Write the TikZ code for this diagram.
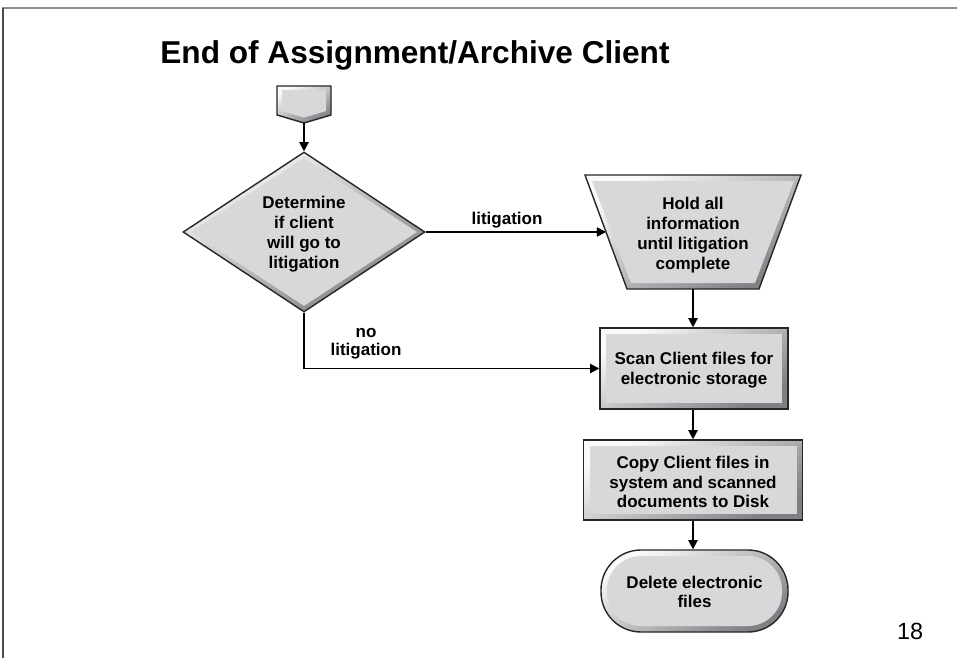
\documentclass[tikz,border=0pt]{standalone}
\usepackage{fontspec}
\setmainfont{Liberation Sans}
\usetikzlibrary{shapes.geometric,arrows.meta}
\definecolor{face}{RGB}{216,216,219}
\definecolor{rimlight}{RGB}{250,250,252}
\definecolor{rimdark}{RGB}{128,128,132}
\begin{document}
\begin{tikzpicture}[x=0.5pt,y=-0.5pt,
  outer/.style={draw=black!85, line width=0.7pt, top color=rimlight, bottom color=rimdark, shading angle=30, inner sep=0pt},
  inner/.style={fill=face, draw=none, inner sep=0pt},
  txt/.style={font=\bfseries\fontsize{8.5}{9.9}\selectfont, align=center, inner sep=0pt, text=black},
  flow/.style={-{Triangle[length=4.6pt,width=4.6pt]}, line width=0.9pt, draw=black},
  lbl/.style={font=\bfseries\fontsize{8.5}{8.8}\selectfont, align=center, inner sep=0pt}]
\useasboundingbox (0,0) rectangle (957,658);
\fill[white] (0,0) rectangle (957,658);

% page frame
\draw[black!45, line width=1pt] (2,8) -- (957,8);
\draw[black!70, line width=1.2pt] (3,8) -- (3,658);

% title
\node[anchor=base west, font=\bfseries\fontsize{15.8}{18}\selectfont, inner sep=0pt] (title) at (160,64) {End of Assignment/Archive Client};

% start connector (off-page pointer)
\path[outer] (277,86) -- (331,86) -- (331,115) -- (304,123) -- (277,115) -- cycle;
\path[inner] (282,90) -- (326,90) -- (326,111) -- (304,117.5) -- (282,111) -- cycle;
\coordinate (start) at (304,123);

% decision
\node[outer, diamond, minimum width=242*0.5pt, minimum height=160*0.5pt] (dia) at (304,232) {};
\node[inner, diamond, minimum width=226*0.5pt, minimum height=148*0.5pt] (diaface) at (304,232) {};
\node[txt] (diatext) at (304,234) {Determine\\if client\\will go to\\litigation};

% hold (manual operation, inverted trapezoid)
\path[outer] (585,175) -- (801,175) -- (759,289) -- (627,289) -- cycle;
\path[inner] (592,181) -- (794,181) -- (755,283) -- (631,283) -- cycle;
\coordinate (holdin) at (606,232);
\coordinate (holdout) at (693,289);
\node[txt] (holdtext) at (693,235) {Hold all\\information\\until litigation\\complete};

% scan
\node[outer, rectangle, minimum width=188*0.5pt, minimum height=81*0.5pt] (scan) at (694,368.5) {};
\node[inner, rectangle, minimum width=176*0.5pt, minimum height=69*0.5pt] (scanface) at (694,368.5) {};
\node[txt] (scantext) at (694,370) {Scan Client files for\\electronic storage};

% copy
\node[outer, rectangle, minimum width=219*0.5pt, minimum height=80*0.5pt] (copy) at (693,480) {};
\node[inner, rectangle, minimum width=207*0.5pt, minimum height=68*0.5pt] (copyface) at (693,480) {};
\node[txt] (copytext) at (693,482) {Copy Client files in\\system and scanned\\documents to Disk};

% delete (terminator)
\node[outer, rectangle, rounded corners=40*0.5pt, minimum width=187*0.5pt, minimum height=82*0.5pt] (del) at (694.5,591) {};
\node[inner, rectangle, rounded corners=34*0.5pt, minimum width=175*0.5pt, minimum height=70*0.5pt] (delface) at (694.5,591) {};
\node[txt] (deltext) at (694.5,592) {Delete electronic\\files};

% connectors
\draw[flow] (start) -- (dia.north);
\draw[flow] (dia.east) -- (holdin);
\draw[flow] (dia.south) |- (scan.west);
\draw[flow] (holdout) -- (holdout |- scan.north);
\draw[flow] (scan.south -| holdout) -- (copy.north -| holdout);
\draw[flow] (copy.south -| holdout) -- (del.north -| holdout);

% branch labels
\node[lbl] (littag) at (507,220) {litigation};
\node[lbl] (nolittag) at (366,344) {no\\litigation};

% page number
\node[font=\fontsize{11.7}{14}\selectfont, inner sep=0pt] (pagenum) at (910,631) {18};
\end{tikzpicture}
\end{document}
